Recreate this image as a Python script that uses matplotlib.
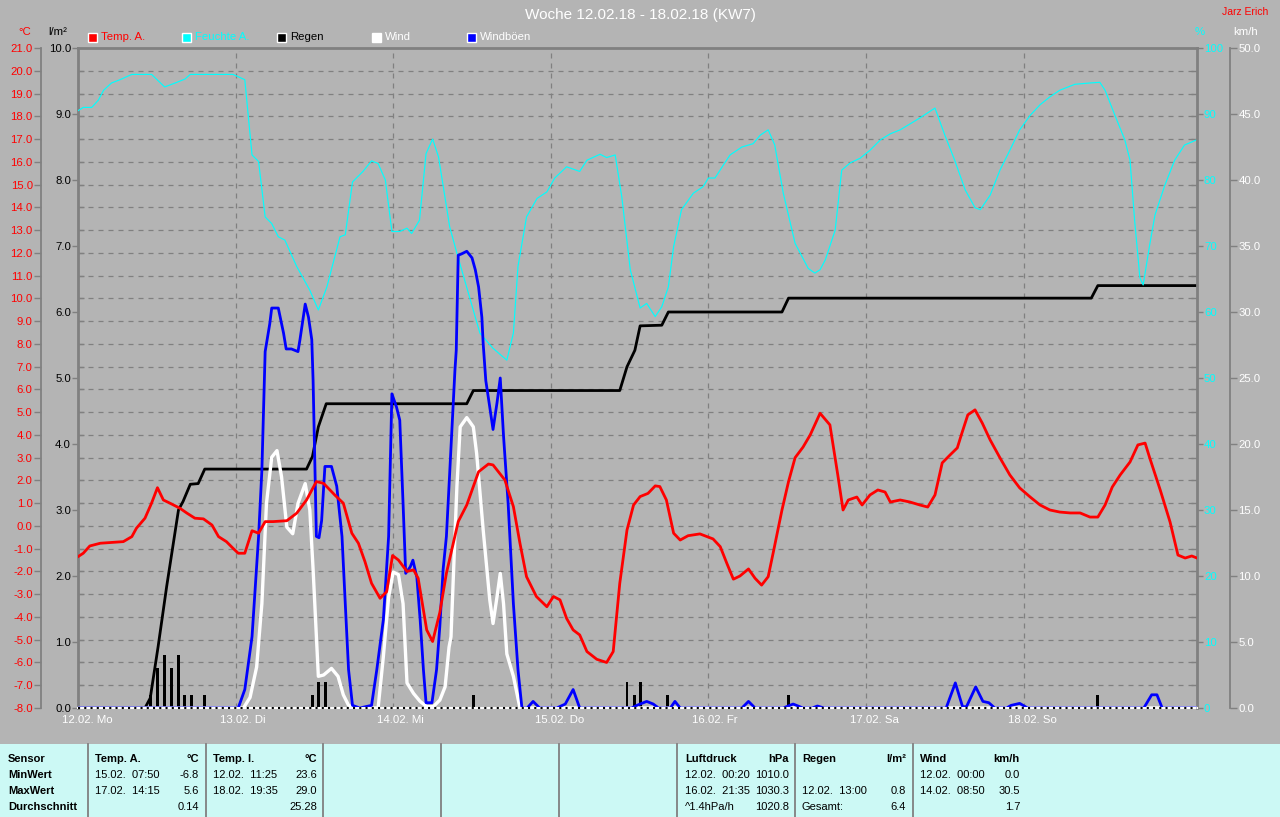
import matplotlib
matplotlib.use("Agg")
import matplotlib.pyplot as plt
import matplotlib.transforms as mtransforms
from matplotlib.patches import Rectangle
from matplotlib.lines import Line2D

# time axis in hours since 12.02. 00:00
hours_total = 170.4
day_labels = ["12.02. Mo", "13.02. Di", "14.02. Mi", "15.02. Do", "16.02. Fr", "17.02. Sa", "18.02. So"]

# Feuchte A. (%)
hum_h = [0, 0.8, 2.1, 3.1, 3.9, 5.1, 6.4, 8.2, 11.2, 13.2, 14.8, 16.3, 17.1, 23.6, 25.4, 26.5, 27.5,
         28.5, 29.5, 30.5, 31.5, 33.3, 35.3, 36.6, 37.9, 39.9, 40.7, 41.8, 43.4, 44.7, 45.7, 46.8,
         47.8, 49.0, 50.1, 50.8, 52.0, 53.0, 54.0, 54.9, 56.6, 57.7, 61.2, 63.2, 65.3, 66.3, 67.0,
         68.3, 69.9, 71.4, 72.6, 74.4, 76.4, 77.5, 79.5, 80.5, 81.8, 82.8, 84.1, 85.6, 86.6, 87.9,
         88.9, 89.9, 90.7, 91.9, 93.7, 95.2, 96.0, 97.0, 98.3, 99.3, 101.1, 102.8, 103.9, 105.1,
         106.1, 107.4, 109.2, 111.2, 112.2, 113.0, 113.8, 115.3, 116.3, 117.6, 119.1, 120.6, 122.2,
         123.7, 125.2, 128.2, 130.5, 132.0, 133.5, 135.1, 136.6, 137.4, 138.9, 140.4, 141.9, 143.4,
         145.0, 146.5, 148.0, 149.5, 151.8, 154.1, 155.6, 156.4, 157.9, 159.4, 160.2, 160.9, 161.7,
         162.2, 163.2, 164.0, 165.5, 167.0, 168.5, 170.4]
hum_v = [90.5, 91.0, 91.0, 92.1, 93.6, 94.7, 95.2, 96.0, 96.0, 94.1, 94.7, 95.3, 96.0, 96.0, 95.2, 83.8, 82.8,
         74.4, 73.4, 71.4, 70.9, 66.9, 63.3, 60.3, 63.8, 71.4, 71.7, 79.7, 81.3, 82.9, 82.5, 80.0,
         72.2, 72.2, 72.7, 71.9, 73.9, 84.0, 86.2, 83.5, 72.9, 68.9, 56.8, 54.5, 52.7, 56.8, 66.9,
         74.4, 77.2, 78.2, 80.3, 82.0, 81.3, 83.0, 83.9, 83.4, 83.8, 77.5, 66.4, 60.6, 61.3, 59.3,
         60.8, 63.8, 69.9, 75.5, 78.0, 79.0, 80.3, 80.3, 82.3, 83.8, 85.0, 85.5, 86.8, 87.6,
         85.3, 78.0, 70.4, 66.6, 65.9, 66.4, 67.9, 72.4, 81.5, 82.6, 83.3, 84.5, 86.1,
         87.0, 87.6, 89.4, 90.9, 86.8, 83.0, 78.5, 75.8, 75.5, 77.7, 81.5, 84.5, 87.6,
         89.8, 91.4, 92.6, 93.6, 94.5, 94.7, 94.8, 93.6, 89.8, 86.1, 83.0, 73.9, 65.2,
         64.1, 70.2, 74.7, 79.2, 83.0, 85.3, 86.1]

# Temp. A. (°C)
temp_h = [0, 0.8, 1.8, 3.4, 5.4, 6.9, 8.2, 8.9, 10.2, 11.2, 12.1, 13.0, 14.0, 15.5, 16.6, 17.8, 19.1,
          20.4, 21.4, 22.6, 23.6, 24.4, 25.4, 26.5, 27.5, 28.5, 29.7, 31.8, 33.3, 34.8, 36.3, 37.4,
          39.1, 40.4, 41.7, 42.7, 43.7, 44.7, 46.0, 47.0, 47.9, 48.8, 50.1, 51.1, 51.8, 53.1, 54.0,
          55.1, 56.1, 57.9, 59.2, 61.0, 62.5, 63.2, 65.0, 66.3, 67.3, 68.3, 69.8, 71.4, 72.4, 73.4,
          74.4, 75.4, 76.4, 77.5, 79.0, 80.5, 81.5, 82.5, 83.6, 84.6, 85.6, 86.8, 87.9, 88.6, 89.6,
          90.7, 91.7, 92.9, 94.7, 96.7, 97.8, 98.8, 99.8, 100.8, 102.1, 103.1, 104.1, 105.1, 105.9,
          107.2, 108.2, 109.2, 110.4, 111.5, 113.0, 114.5, 115.7, 116.5, 117.3, 118.6, 119.4, 120.6,
          121.8, 122.9, 123.7, 125.2, 126.7, 128.2, 129.4, 130.5, 131.6, 132.8, 133.9, 134.6, 135.5,
          136.6, 137.7, 138.9, 140.4, 141.9, 143.4, 145.0, 146.5, 148.0, 149.5, 151.1, 152.6, 154.1,
          155.3, 156.4, 157.5, 158.7, 160.2, 161.4, 162.5, 163.2, 164.8, 166.3, 167.5, 168.6, 169.6, 170.4]
temp_v = [-1.35, -1.2, -0.88, -0.76, -0.72, -0.69, -0.47, -0.1, 0.34, 1.0, 1.68, 1.14, 1.0, 0.78, 0.56, 0.34, 0.31,
          0.04, -0.47, -0.69, -0.98, -1.2, -1.2, -0.21, -0.32, 0.19, 0.19, 0.23, 0.56, 1.14, 1.95, 1.87,
          1.36, 1.0, -0.32, -0.76, -1.57, -2.52, -3.18, -2.89, -1.3, -1.5, -2.0, -1.93, -2.3, -4.57, -5.08,
          -3.8, -2.08, 0.19, 0.92, 2.38, 2.72, 2.68, 2.02, 0.85, -0.76, -2.23, -3.1, -3.55, -3.1, -3.25,
          -4.06, -4.57, -4.79, -5.52, -5.86, -6.0, -5.52, -2.52, -0.18, 0.92, 1.29, 1.43, 1.76, 1.73, 1.14,
          -0.32, -0.62, -0.43, -0.35, -0.57, -0.91, -1.64, -2.34, -2.2, -1.89, -2.3, -2.6, -2.23, -1.13,
          0.7, 1.95, 3.0, 3.46, 4.0, 4.95, 4.44, 2.24, 0.7, 1.14, 1.27, 0.92, 1.36,
          1.58, 1.49, 1.05, 1.14, 1.05, 0.92, 0.83, 1.36, 2.77, 3.12, 3.43, 4.08, 4.88,
          5.1, 4.52, 3.78, 2.99, 2.24, 1.67, 1.27, 0.92, 0.7, 0.61, 0.57, 0.57, 0.39,
          0.39, 0.92, 1.71, 2.24, 2.81, 3.56, 3.64, 2.99, 1.58, 0.17, -1.28, -1.41, -1.32, -1.41]

# Regen: cumulative sum (l/m²) and hourly amounts
rain_h = [0, 10.2, 11.0, 12.2, 13.5, 15.3, 16.0, 17.1, 18.3, 19.3, 34.8, 35.7, 36.6, 37.8, 59.2, 60.2,
          82.5, 83.6, 84.8, 85.6, 88.9, 89.9, 107.2, 108.2, 154.3, 155.3, 170.4]
rain_v = [0, 0, 0.15, 0.93, 1.84, 3.0, 3.13, 3.39, 3.4, 3.62, 3.62, 3.81, 4.26, 4.61, 4.61, 4.81,
          4.81, 5.17, 5.42, 5.79, 5.8, 6.0, 6.0, 6.21, 6.21, 6.4, 6.4]
bar_h = [11.1, 12.1, 13.1, 14.3, 15.3, 16.2, 17.3, 19.2, 35.7, 36.6, 37.7, 60.2, 83.6, 84.7, 85.6, 89.7, 108.2, 155.2]
bar_v = [0.2, 0.6, 0.8, 0.6, 0.8, 0.2, 0.2, 0.2, 0.2, 0.4, 0.4, 0.2, 0.4, 0.2, 0.4, 0.2, 0.2, 0.2]

# Wind (km/h)
wind_h = [0, 25.2, 26.2, 27.2, 28.0, 28.7, 29.5, 30.3, 31.0, 31.8, 32.7, 33.5, 34.6, 35.3, 35.8, 36.6,
          37.4, 38.6, 39.6, 40.4, 41.2, 42.0, 45.7, 46.5, 47.3, 48.0, 48.8, 49.5, 50.1, 51.1, 52.1,
          53.1, 54.1, 55.1, 55.9, 56.5, 56.8, 57.2, 57.7, 58.2, 59.2, 60.2, 60.7, 61.7, 62.7, 63.2,
          63.8, 64.3, 64.8, 65.3, 66.3, 67.3, 170.4]
wind_v = [0, 0, 0.8, 3.1, 7.9, 15.5, 19.0, 19.5, 17.5, 13.7, 13.2, 15.5, 17.0, 15.0, 10.5, 2.4,
          2.5, 3.0, 2.4, 1.0, 0.2, 0, 0, 3.9, 8.4, 10.3, 10.1, 7.9, 1.9, 1.1, 0.5,
          0.1, 0.1, 0.6, 1.6, 4.6, 5.4, 10.5, 16.8, 21.3, 22.0, 21.3, 19.3, 13.5, 8.2, 6.4,
          8.4, 10.2, 7.9, 4.1, 2.4, 0, 0]

# Windböen (km/h)
gust_h = [0, 24.4, 25.4, 26.5, 27.5, 28.0, 28.5, 29.2, 29.5, 30.5, 31.3, 31.7, 32.5, 33.5, 33.8, 34.6,
          35.1, 35.6, 35.8, 36.3, 36.7, 37.1, 37.6, 38.6, 39.4, 40.2, 40.7, 41.2, 41.8, 42.9, 44.7,
          45.5, 46.5, 47.3, 47.8, 48.5, 49.0, 49.5, 49.9, 50.6, 51.0, 51.6, 52.1, 52.6, 53.0, 53.9,
          54.6, 55.1, 55.6, 56.1, 56.6, 57.4, 57.6, 57.9, 58.4, 59.2, 60.0, 60.5, 61.0, 61.5, 61.7,
          62.1, 62.7, 63.2, 63.8, 64.3, 64.8, 65.5, 66.3, 67.0, 67.6,
          68.4, 69.3, 70.3, 72.9, 74.2, 75.4, 76.4, 84.3, 85.1, 86.6, 87.6, 88.4, 90.2, 90.9, 91.7,
          101.1, 102.1, 103.1, 107.4, 108.9, 110.4, 111.8, 112.6, 113.6,
          132.2, 133.6, 134.7, 135.3, 136.7, 137.8, 138.7, 139.6, 141.4, 142.1, 143.4, 144.6,
          162.3, 163.5, 164.3, 165.1, 170.4]
gust_v = [0, 0, 1.4, 5.4, 13.0, 18.0, 27.0, 29.1, 30.3, 30.3, 28.4, 27.2, 27.2, 27.0, 27.9, 30.6,
          29.6, 27.9, 24.8, 13.0, 12.9, 14.2, 18.3, 18.3, 16.8, 13.0, 7.9, 2.9, 0.2, 0, 0.2,
          2.9, 6.7, 13.0, 23.8, 22.8, 21.8, 15.5, 10.2, 10.7, 11.2, 9.9, 6.7, 2.9, 0.4, 0.4,
          2.9, 6.2, 10.5, 13.0, 17.8, 25.6, 27.1, 34.3, 34.4, 34.6, 34.1, 33.2, 31.9, 29.6, 27.6,
          24.8, 22.8, 21.1, 23.1, 25.0, 20.6, 15.5, 7.9, 2.9, 0,
          0, 0.5, 0, 0, 0.3, 1.4, 0, 0, 0.2, 0.5, 0.3, 0, 0, 0.5, 0,
          0, 0.5, 0, 0, 0.3, 0, 0, 0.15, 0,
          0, 1.9, 0.1, 0.1, 1.6, 0.5, 0.4, 0, 0, 0.2, 0.35, 0,
          0, 1.0, 1.0, 0, 0]

# summary table
table_cols = [
    ("Temp. A.", "°C", [("15.02.  07:50", "-6.8"), ("17.02.  14:15", "5.6"), ("", "0.14")]),
    ("Temp. I.", "°C", [("12.02.  11:25", "23.6"), ("18.02.  19:35", "29.0"), ("", "25.28")]),
    ("Luftdruck", "hPa", [("12.02.  00:20", "1010.0"), ("16.02.  21:35", "1030.3"), ("^1.4hPa/h", "1020.8")]),
    ("Regen", "l/m²", [("", ""), ("12.02.  13:00", "0.8"), ("Gesamt:", "6.4")]),
    ("Wind", "km/h", [("12.02.  00:00", "0.0"), ("14.02.  08:50", "30.5"), ("", "1.7")]),
]
row_names = ["Sensor", "MinWert", "MaxWert", "Durchschnitt"]

W, H = 1280, 817
def fx(x):
    return x / W
def fy(y):
    return 1 - y / H

bg = "#b4b4b4"
gc = "#808080"
cyan = "#00ffff"
plt.rcParams["font.family"] = ["Liberation Sans", "DejaVu Sans"]

fig = plt.figure(figsize=(12.8, 8.17), dpi=100, facecolor=bg)
ax = fig.add_axes([fx(78), fy(708), (1197 - 78) / W, 660 / H])
ax.set_facecolor(bg)
ax.set_xlim(0, hours_total)
ax.set_ylim(0, 10)

ax_h = ax.twinx()
ax_h.set_ylim(0, 100)
ax_w = ax.twinx()
ax_w.set_ylim(0, 50)
ax_t = ax.twinx()
ax_t.set_ylim(-8, 21)

# grid: one line per degree, one per day
grid_pos = [(t + 8) / 29 * 10 for t in range(-7, 21)]
for g in grid_pos:
    ax.axhline(g, color=gc, lw=0.9, ls=(0, (4, 4)), zorder=0)
for d in range(1, 7):
    ax.axvline(24 * d, color=gc, lw=0.9, ls=(0, (4, 4)), zorder=0)

# data
ax_h.plot(hum_h, hum_v, color=cyan, lw=0.85)
ax.bar(bar_h, bar_v, width=0.45, color="black", zorder=3)
ax.plot(rain_h, rain_v, color="black", lw=2, zorder=4)
ax_w.plot(wind_h, wind_v, color="white", lw=2.4)
ax_w.plot(gust_h, gust_v, color="#0000ff", lw=2)
ax_t.plot(temp_h, temp_v, color="#ff0000", lw=2)

# baseline on top: white with black dots
ax_t.axhline(-8, color="white", lw=1.5, zorder=5, clip_on=False)
ax_t.axhline(-8, color="black", lw=1.5, ls=(0, (1, 2)), zorder=6, clip_on=False)

# spines
for a in (ax_h, ax_w, ax_t):
    for s in a.spines.values():
        s.set_visible(False)
ax.spines["right"].set_visible(False)
ax.spines["bottom"].set_visible(False)
for s in ("top", "left"):
    ax.spines[s].set_color(gc)
    ax.spines[s].set_linewidth(2)
ax_h.spines["right"].set_visible(True)
ax_h.spines["right"].set_color(gc)
ax_h.spines["right"].set_linewidth(2)
ax_w.spines["right"].set_visible(True)
ax_w.spines["right"].set_position(("outward", 23.8))
ax_w.spines["right"].set_color(gc)
ax_w.spines["right"].set_linewidth(1.3)
ax_t.spines["left"].set_visible(True)
ax_t.spines["left"].set_position(("outward", 26.6))
ax_t.spines["left"].set_color(gc)
ax_t.spines["left"].set_linewidth(1.3)
ax_t.yaxis.set_ticks_position("left")
ax_t.yaxis.set_label_position("left")

# y ticks
fs = 8.2
ax.set_yticks(range(11))
ax.set_yticklabels([f"{v:.1f}" for v in range(11)])
ax.set_yticks(grid_pos, minor=True)
ax.tick_params(axis="y", which="major", direction="out", length=4, width=1, color=gc,
               labelcolor="black", labelsize=fs, pad=1)
ax.tick_params(axis="y", which="minor", direction="in", length=4, width=1, color=gc)

ax_t.set_yticks(range(-8, 22))
ax_t.set_yticklabels([f"{v:.1f}" for v in range(-8, 22)])
ax_t.tick_params(axis="y", direction="out", length=5, width=1, color=gc,
                 labelcolor="#ff0000", labelsize=fs, pad=1)

ax_h.set_yticks(range(0, 101, 10))
ax_h.set_yticklabels([str(v) for v in range(0, 101, 10)])
ax_h.set_yticks([(t + 8) / 29 * 100 for t in range(-7, 21)], minor=True)
ax_h.tick_params(axis="y", which="major", direction="out", length=4, width=1, color=gc,
                 labelcolor=cyan, labelsize=fs, pad=1)
ax_h.tick_params(axis="y", which="minor", direction="in", length=4, width=1, color=gc)

ax_w.set_yticks(range(0, 51, 5))
ax_w.set_yticklabels([f"{v:.1f}" for v in range(0, 51, 5)])
ax_w.tick_params(axis="y", direction="out", length=5, width=1, color=gc,
                 labelcolor="white", labelsize=fs, pad=1)

# x labels, left aligned a bit before each day line
ax.set_xticks([24 * i for i in range(7)])
ax.set_xticklabels(day_labels)
ax.tick_params(axis="x", length=0, labelcolor="white", labelsize=fs, pad=5)
shift = mtransforms.ScaledTranslation(-0.16, 0, fig.dpi_scale_trans)
for lab in ax.get_xticklabels():
    lab.set_horizontalalignment("left")
    lab.set_transform(lab.get_transform() + shift)

# titles and unit labels
fig.text(fx(640), fy(15), "Woche 12.02.18 - 18.02.18 (KW7)", color="white", fontsize=11,
         ha="center", va="center")
fig.text(fx(1268), fy(12), "Jarz Erich", color="#ff0000", fontsize=7.5, ha="right", va="center")
fig.text(fx(25), fy(32), "°C", color="#ff0000", fontsize=fs, ha="center", va="center")
fig.text(fx(58), fy(32), "l/m²", color="black", fontsize=fs, ha="center", va="center")
fig.text(fx(1200), fy(32), "%", color=cyan, fontsize=fs, ha="center", va="center")
fig.text(fx(1246), fy(32), "km/h", color="white", fontsize=fs, ha="center", va="center")

# legend
legend = [("Temp. A.", "#ff0000", "#ff0000", 88), ("Feuchte A.", cyan, cyan, 182),
          ("Regen", "black", "black", 277), ("Wind", "white", "white", 372),
          ("Windböen", "#0000ff", "white", 467)]
for name, fill, tcol, x in legend:
    fig.add_artist(Rectangle((fx(x), fy(42)), 9 / W, 9 / H, transform=fig.transFigure,
                             facecolor=fill, edgecolor="white", lw=1))
    fig.text(fx(x + 13), fy(37.5), name, color=tcol, fontsize=fs, ha="left", va="center")

# bottom table
fig.add_artist(Rectangle((0, 0), 1, (817 - 744) / H, transform=fig.transFigure,
                         facecolor="#ccf9f5", edgecolor="none"))
for x in [88, 206, 323, 441, 559, 677, 795, 913]:
    fig.add_artist(Line2D([fx(x), fx(x)], [0, fy(744)], transform=fig.transFigure,
                          color=gc, lw=1.3))
rows_y = [759, 775, 791, 807]
for name, y in zip(row_names, rows_y):
    fig.text(fx(8), fy(y), name, fontsize=8, fontweight="bold", ha="left", va="center")
col_lr = [(95, 199), (213, 317), (685, 789), (802, 906), (920, 1020)]
for (head, unit, rows), (xl, xr) in zip(table_cols, col_lr):
    fig.text(fx(xl), fy(rows_y[0]), head, fontsize=8, fontweight="bold", ha="left", va="center")
    fig.text(fx(xr), fy(rows_y[0]), unit, fontsize=8, fontweight="bold", ha="right", va="center")
    for (left, right), y in zip(rows, rows_y[1:]):
        fig.text(fx(xl), fy(y), left, fontsize=8, ha="left", va="center")
        fig.text(fx(xr), fy(y), right, fontsize=8, ha="right", va="center")

fig.savefig("out.png", dpi=100, facecolor=bg)
